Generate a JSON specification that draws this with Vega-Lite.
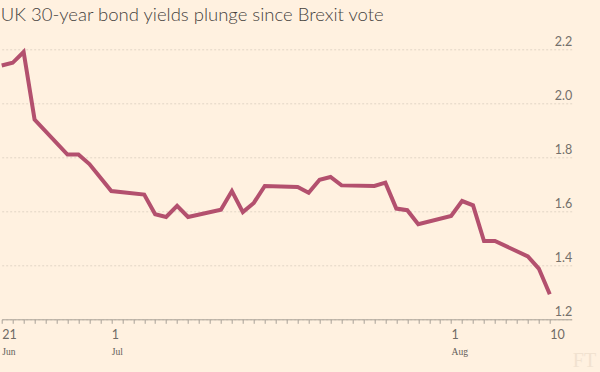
{
  "$schema": "https://vega.github.io/schema/vega-lite/v6.json",
  "autosize": "none",
  "width": 570,
  "height": 270,
  "padding": {"left": 1.7, "top": 49.3, "right": 28.3, "bottom": 52.7},
  "background": "#fff1e0",
  "title": {
    "text": "UK 30-year bond yields plunge since Brexit vote",
    "anchor": "start",
    "frame": "group",
    "offset": 11,
    "dx": -1,
    "font": "Lato",
    "fontSize": 18.5,
    "fontWeight": 300,
    "color": "#45413d"
  },
  "config": {"view": {"stroke": null}},
  "data": {"values": [
    {"date": "2016-06-21", "yield": 2.14},
    {"date": "2016-06-22", "yield": 2.15},
    {"date": "2016-06-23", "yield": 2.19},
    {"date": "2016-06-24", "yield": 1.94},
    {"date": "2016-06-27", "yield": 1.81},
    {"date": "2016-06-28", "yield": 1.81},
    {"date": "2016-06-29", "yield": 1.775},
    {"date": "2016-07-01", "yield": 1.675},
    {"date": "2016-07-04", "yield": 1.662},
    {"date": "2016-07-05", "yield": 1.589},
    {"date": "2016-07-06", "yield": 1.579},
    {"date": "2016-07-07", "yield": 1.62},
    {"date": "2016-07-08", "yield": 1.579},
    {"date": "2016-07-11", "yield": 1.606},
    {"date": "2016-07-12", "yield": 1.675},
    {"date": "2016-07-13", "yield": 1.597},
    {"date": "2016-07-14", "yield": 1.631},
    {"date": "2016-07-15", "yield": 1.694},
    {"date": "2016-07-18", "yield": 1.69},
    {"date": "2016-07-19", "yield": 1.669},
    {"date": "2016-07-20", "yield": 1.717},
    {"date": "2016-07-21", "yield": 1.727},
    {"date": "2016-07-22", "yield": 1.696},
    {"date": "2016-07-25", "yield": 1.694},
    {"date": "2016-07-26", "yield": 1.706},
    {"date": "2016-07-27", "yield": 1.61},
    {"date": "2016-07-28", "yield": 1.604},
    {"date": "2016-07-29", "yield": 1.552},
    {"date": "2016-08-01", "yield": 1.583},
    {"date": "2016-08-02", "yield": 1.638},
    {"date": "2016-08-03", "yield": 1.622},
    {"date": "2016-08-04", "yield": 1.49},
    {"date": "2016-08-05", "yield": 1.49},
    {"date": "2016-08-08", "yield": 1.433},
    {"date": "2016-08-09", "yield": 1.388},
    {"date": "2016-08-10", "yield": 1.293}
  ]},
  "layer": [
    {
      "mark": {"type": "line", "color": "#b3506e", "strokeWidth": 4, "strokeJoin": "miter", "strokeCap": "butt"},
      "encoding": {
        "x": {
          "field": "date", "type": "temporal",
          "scale": {"type": "utc", "domain": [{"year": 2016, "month": 6, "date": 21, "utc": true}, {"year": 2016, "month": 8, "date": 12, "utc": true}]},
          "axis": {
            "orient": "bottom",
            "title": null,
            "grid": false,
            "values": [
              {"year": 2016, "month": 6, "date": 21, "utc": true},
              {"year": 2016, "month": 6, "date": 22, "utc": true},
              {"year": 2016, "month": 6, "date": 23, "utc": true},
              {"year": 2016, "month": 6, "date": 24, "utc": true},
              {"year": 2016, "month": 6, "date": 25, "utc": true},
              {"year": 2016, "month": 6, "date": 26, "utc": true},
              {"year": 2016, "month": 6, "date": 27, "utc": true},
              {"year": 2016, "month": 6, "date": 28, "utc": true},
              {"year": 2016, "month": 6, "date": 29, "utc": true},
              {"year": 2016, "month": 6, "date": 30, "utc": true},
              {"year": 2016, "month": 7, "date": 1, "utc": true},
              {"year": 2016, "month": 7, "date": 2, "utc": true},
              {"year": 2016, "month": 7, "date": 3, "utc": true},
              {"year": 2016, "month": 7, "date": 4, "utc": true},
              {"year": 2016, "month": 7, "date": 5, "utc": true},
              {"year": 2016, "month": 7, "date": 6, "utc": true},
              {"year": 2016, "month": 7, "date": 7, "utc": true},
              {"year": 2016, "month": 7, "date": 8, "utc": true},
              {"year": 2016, "month": 7, "date": 9, "utc": true},
              {"year": 2016, "month": 7, "date": 10, "utc": true},
              {"year": 2016, "month": 7, "date": 11, "utc": true},
              {"year": 2016, "month": 7, "date": 12, "utc": true},
              {"year": 2016, "month": 7, "date": 13, "utc": true},
              {"year": 2016, "month": 7, "date": 14, "utc": true},
              {"year": 2016, "month": 7, "date": 15, "utc": true},
              {"year": 2016, "month": 7, "date": 16, "utc": true},
              {"year": 2016, "month": 7, "date": 17, "utc": true},
              {"year": 2016, "month": 7, "date": 18, "utc": true},
              {"year": 2016, "month": 7, "date": 19, "utc": true},
              {"year": 2016, "month": 7, "date": 20, "utc": true},
              {"year": 2016, "month": 7, "date": 21, "utc": true},
              {"year": 2016, "month": 7, "date": 22, "utc": true},
              {"year": 2016, "month": 7, "date": 23, "utc": true},
              {"year": 2016, "month": 7, "date": 24, "utc": true},
              {"year": 2016, "month": 7, "date": 25, "utc": true},
              {"year": 2016, "month": 7, "date": 26, "utc": true},
              {"year": 2016, "month": 7, "date": 27, "utc": true},
              {"year": 2016, "month": 7, "date": 28, "utc": true},
              {"year": 2016, "month": 7, "date": 29, "utc": true},
              {"year": 2016, "month": 7, "date": 30, "utc": true},
              {"year": 2016, "month": 7, "date": 31, "utc": true},
              {"year": 2016, "month": 8, "date": 1, "utc": true},
              {"year": 2016, "month": 8, "date": 2, "utc": true},
              {"year": 2016, "month": 8, "date": 3, "utc": true},
              {"year": 2016, "month": 8, "date": 4, "utc": true},
              {"year": 2016, "month": 8, "date": 5, "utc": true},
              {"year": 2016, "month": 8, "date": 6, "utc": true},
              {"year": 2016, "month": 8, "date": 7, "utc": true},
              {"year": 2016, "month": 8, "date": 8, "utc": true},
              {"year": 2016, "month": 8, "date": 9, "utc": true},
              {"year": 2016, "month": 8, "date": 10, "utc": true}
            ],
            "labelExpr": "(utcdate(datum.value) == 1 || (utcmonth(datum.value) == 5 && utcdate(datum.value) == 21) || (utcmonth(datum.value) == 7 && utcdate(datum.value) == 10)) ? utcFormat(datum.value, '%-d') : ''",
            "labelAlign": "left",
            "labelFont": "Lato",
            "labelFontSize": 12.5,
            "labelColor": "#6f6b66",
            "labelPadding": 5,
            "labelOverlap": false,
            "labelFlush": false,
            "tickSize": 4,
            "tickColor": "#a8a198",
            "domainColor": "#a8a198",
            "domainWidth": 1
          }
        },
        "y": {
          "field": "yield", "type": "quantitative",
          "scale": {"domain": [1.2, 2.2], "zero": false, "nice": false},
          "axis": {
            "orient": "right",
            "title": null,
            "values": [1.2, 1.4, 1.6, 1.8, 2.0, 2.2],
            "format": ".1f",
            "domain": false,
            "ticks": false,
            "grid": true,
            "gridColor": "#e2d5c5",
            "gridDash": [2, 2],
            "gridWidth": 1,
            "labelAlign": "right",
            "labelBaseline": "alphabetic",
            "labelOffset": -4,
            "labelPadding": 0,
            "labelFont": "Lato",
            "labelFontSize": 12.5,
            "labelColor": "#74706b"
          }
        }
      }
    },
    {
      "mark": {"type": "point", "opacity": 0},
      "encoding": {
        "x": {
          "field": "date", "type": "temporal",
          "axis": {
            "orient": "bottom",
            "title": "FT",
            "titleFont": "Liberation Serif",
            "titleFontSize": 20,
            "titleFontWeight": "normal",
            "titleColor": "#f1e2d0",
            "titleAnchor": "end",
            "titleAlign": "right",
            "titleBaseline": "alphabetic",
            "titleX": 594,
            "titleY": 47,
            "grid": false,
            "ticks": false,
            "domain": false,
            "values": [
              {"year": 2016, "month": 6, "date": 21, "utc": true},
              {"year": 2016, "month": 7, "date": 1, "utc": true},
              {"year": 2016, "month": 8, "date": 1, "utc": true}
            ],
            "labelExpr": "utcFormat(datum.value, '%b')",
            "labelAlign": "left",
            "labelFont": "Liberation Serif",
            "labelFontSize": 9.5,
            "labelColor": "#625d58",
            "labelPadding": 27,
            "labelFlush": false
          }
        }
      }
    }
  ],
  "resolve": {"axis": {"x": "independent"}}
}
